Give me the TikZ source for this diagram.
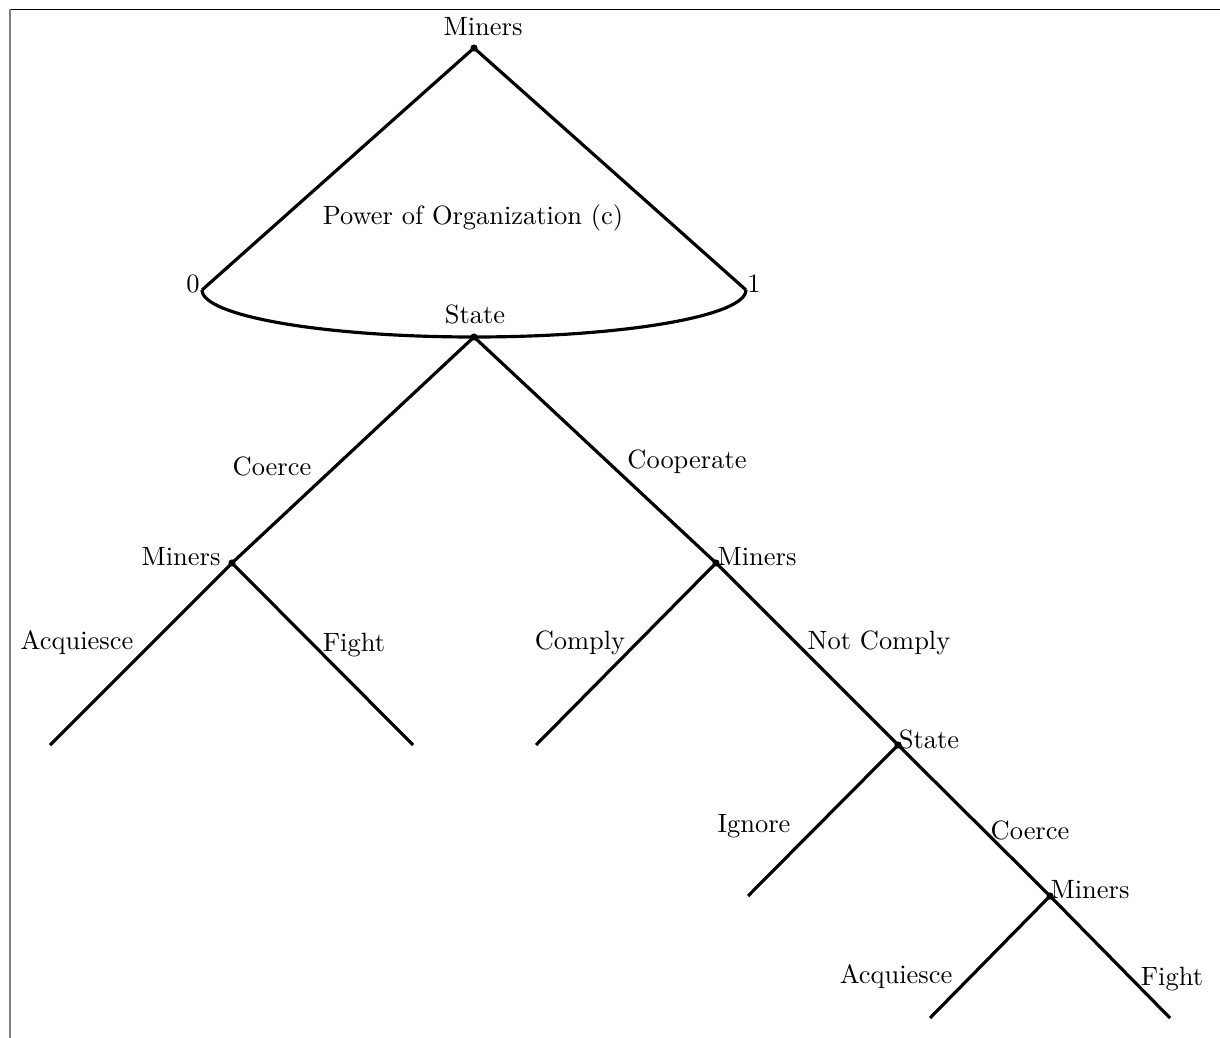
\documentclass[tikz,border=0pt]{standalone}
\begin{document}
\begin{tikzpicture}[x=0.378pt,y=-0.378pt,
  edge/.style={line width=1.2pt},
  dotnode/.style={circle,fill=black,inner sep=0pt,minimum size=2.6pt},
  lbl/.style={inner sep=0pt,anchor=center}]
\useasboundingbox (0,0) rectangle (1220,1038);
% frame
\draw[line width=0.4pt] (10,9.5) -- (1220,9.5);
\draw[line width=0.5pt,gray] (10,9.5) -- (10,1038);
% nodes
\node[dotnode] (m0) at (474,48) {};
\coordinate (c0) at (202,290);
\coordinate (c1) at (746,290);
\node[dotnode] (s1) at (474,337) {};
\node[dotnode] (m1) at (232,563) {};
\node[dotnode] (m2) at (716,563) {};
\coordinate (l1) at (50,745);
\coordinate (l2) at (413,745);
\coordinate (l3) at (536,745);
\node[dotnode] (s2) at (898,745) {};
\coordinate (l4) at (748,896);
\node[dotnode] (m3) at (1050,896) {};
\coordinate (l5) at (930,1018);
\coordinate (l6) at (1170,1018);
% edges
\draw[edge] (m0.center) -- (c0);
\draw[edge] (m0.center) -- (c1);
\draw[edge] (c0) .. controls (202,316) and (324,337) .. (s1.center)
              .. controls (624,337) and (746,316) .. (c1);
\draw[edge] (s1.center) -- (m1.center);
\draw[edge] (s1.center) -- (m2.center);
\draw[edge] (m1.center) -- (l1);
\draw[edge] (m1.center) -- (l2);
\draw[edge] (m2.center) -- (l3);
\draw[edge] (m2.center) -- (s2.center);
\draw[edge] (s2.center) -- (l4);
\draw[edge] (s2.center) -- (m3.center);
\draw[edge] (m3.center) -- (l5);
\draw[edge] (m3.center) -- (l6);
% dots on top
\foreach \n in {m0,s1,m1,m2,s2,m3} \fill (\n.center) circle (1.3pt);
% labels
\node[lbl] (t0) at (483,27) {Miners};
\node[lbl] (t1) at (193,284) {0};
\node[lbl] (t2) at (754,284) {1};
\node[lbl] (t3) at (473,218) {Power of Organization (c)};
\node[lbl] (t4) at (475,314) {State};
\node[lbl] (t5) at (272,466) {Coerce};
\node[lbl] (t6) at (687,462) {Cooperate};
\node[lbl] (t7) at (181,557) {Miners};
\node[lbl] (t8) at (757,557) {Miners};
\node[lbl] (t9) at (77,643) {Acquiesce};
\node[lbl] (t10) at (354,645) {Fight};
\node[lbl] (t11) at (580,643) {Comply};
\node[lbl] (t12) at (879,643) {Not Comply};
\node[lbl] (t13) at (929,739) {State};
\node[lbl] (t14) at (754,826) {Ignore};
\node[lbl] (t15) at (1030,830) {Coerce};
\node[lbl] (t16) at (1090,890) {Miners};
\node[lbl] (t17) at (896,977) {Acquiesce};
\node[lbl] (t18) at (1172,979) {Fight};
\end{tikzpicture}
\end{document}
